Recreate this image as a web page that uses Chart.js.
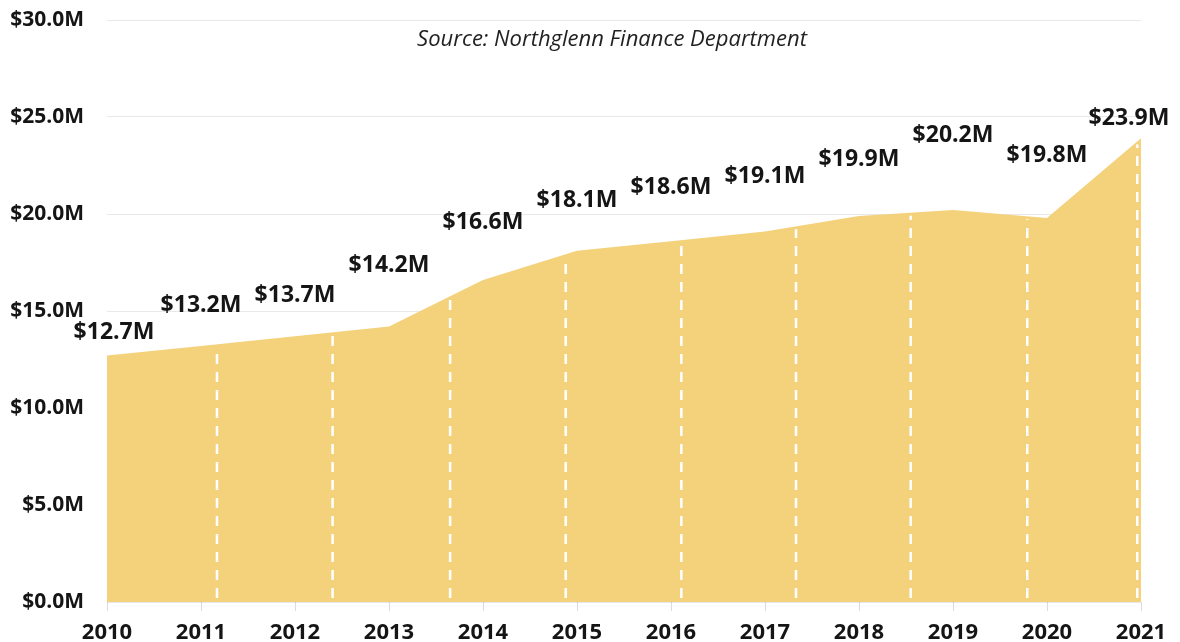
<!DOCTYPE html>
<html>
<head>
<meta charset="utf-8">
<title>Northglenn revenue 2010-2021</title>
<script src="https://cdn.jsdelivr.net/npm/chart.js@4.4.1/dist/chart.umd.min.js"></script>
<style>
  html, body { margin: 0; padding: 0; background: #fff; }
  #wrap { position: relative; width: 1180px; height: 642px; }
</style>
</head>
<body>
<div id="wrap"><canvas id="chart"></canvas></div>
<script>
'use strict';

// Data
const years = [2010, 2011, 2012, 2013, 2014, 2015, 2016, 2017, 2018, 2019, 2020, 2021];
const revenue = [12.7, 13.2, 13.7, 14.2, 16.6, 18.1, 18.6, 19.1, 19.9, 20.2, 19.8, 23.9]; // $M
const yTicks = [0, 5, 10, 15, 20, 25, 30];
// decorative dashed drop lines, in year units on the x axis
const dashYears = [2011.17, 2012.40, 2013.65, 2014.88, 2016.11, 2017.33, 2018.55, 2019.79, 2020.96];
const sourceNote = 'Source: Northglenn Finance Department';

// label nudges in px (dx, dy from the point), hand placed like the original
const labelNudge = [[7,-23],[0,-40],[0,-41],[0,-61],[0,-58],[0,-50],[0,-54],[0,-55],[0,-56],[0,-75],[0,-62],[-12,-20]];

const money = v => '$' + v.toFixed(1) + 'M';
const FILL = '#F4D17B';
const INK = '#151515';

// white dashed lines from the baseline up to the area's top edge
const dashLines = {
  id: 'dashLines',
  afterDatasetsDraw(chart) {
    const pts = chart.getDatasetMeta(0).data;
    const xs = chart.scales.x, ys = chart.scales.y;
    const ctx = chart.ctx;
    ctx.save();
    ctx.strokeStyle = '#fff';
    ctx.lineWidth = 2.5;
    ctx.setLineDash([10, 8]);
    dashYears.forEach(yr => {
      const px = xs.getPixelForValue(yr);
      let top = pts[pts.length - 1].y;
      for (let i = 0; i < pts.length - 1; i++) {
        if (px >= pts[i].x && px <= pts[i + 1].x) {
          const t = (px - pts[i].x) / (pts[i + 1].x - pts[i].x);
          top = pts[i].y + t * (pts[i + 1].y - pts[i].y);
          break;
        }
      }
      ctx.beginPath();
      ctx.moveTo(px, ys.getPixelForValue(0) - 4);
      ctx.lineTo(px, top + 3);
      ctx.stroke();
    });
    ctx.restore();
  }
};

// value labels and the source note
const textLayer = {
  id: 'textLayer',
  afterDraw(chart) {
    const ctx = chart.ctx;
    const area = chart.chartArea;
    const pts = chart.getDatasetMeta(0).data;
    ctx.save();
    ctx.fillStyle = INK;
    ctx.textAlign = 'center';
    ctx.textBaseline = 'middle';
    ctx.font = 'bold 23px "Open Sans"';
    pts.forEach((p, i) => {
      const [dx, dy] = labelNudge[i];
      ctx.fillText(money(revenue[i]), p.x + dx, p.y + dy);
    });
    ctx.font = 'italic 22px "Open Sans"';
    ctx.fillStyle = '#222';
    ctx.fillText(sourceNote, (area.left + area.right) / 2 - 12, area.top + 20);
    ctx.restore();
  }
};

new Chart(document.getElementById('chart'), {
  type: 'line',
  data: {
    datasets: [{
      data: years.map((yr, i) => ({ x: yr, y: revenue[i] })),
      backgroundColor: FILL,
      borderWidth: 0,
      pointRadius: 0,
      tension: 0,
      fill: 'origin'
    }]
  },
  options: {
    responsive: true,
    maintainAspectRatio: false,
    animation: false,
    layout: { padding: { top: 20, right: 39, left: 0, bottom: 0 } },
    plugins: { legend: { display: false }, tooltip: { enabled: false } },
    scales: {
      x: {
        type: 'linear',
        min: years[0],
        max: years[years.length - 1],
        afterBuildTicks: s => { s.ticks = years.map(v => ({ value: v })); },
        afterFit: s => { s.height = 40; },
        border: { display: false },
        grid: { drawOnChartArea: false, tickLength: 9, color: '#dcdcdc' },
        ticks: {
          padding: 9,
          color: INK,
          font: { family: '"Open Sans"', size: 22, weight: 'bold' },
          callback: v => String(v)
        }
      },
      y: {
        min: yTicks[0],
        max: yTicks[yTicks.length - 1],
        z: 1,
        afterBuildTicks: s => { s.ticks = yTicks.map(v => ({ value: v })); },
        afterFit: s => { s.width = 107; s.paddingTop = 0; s.paddingBottom = 0; },
        border: { display: false },
        grid: { drawTicks: false, color: 'rgba(0,0,0,0.09)' },
        ticks: {
          padding: 23,
          color: INK,
          font: { family: '"Open Sans"', size: 21, weight: 'bold' },
          callback: v => money(v)
        }
      }
    }
  },
  plugins: [dashLines, textLayer]
});
</script>
</body>
</html>
